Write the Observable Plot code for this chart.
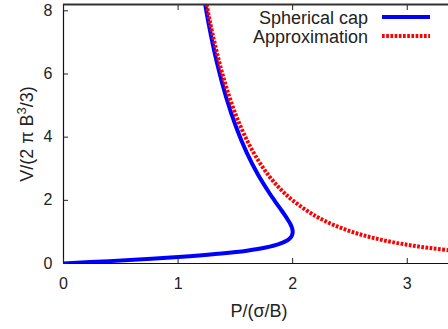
<!DOCTYPE html>
<html><head><meta charset="utf-8">
<script src="https://cdn.jsdelivr.net/npm/d3@7"></script>
<script src="https://cdn.jsdelivr.net/npm/@observablehq/plot@0.6"></script>
<style>
html,body{margin:0;padding:0;background:#fff;}
#chart{width:448px;height:329px;overflow:hidden;}
</style></head><body><div id="chart"></div>
<script>
const seriesNames = ["Spherical cap", "Approximation"];
const capP = [0, 0.396, 0.769, 1.101, 1.379, 1.6, 1.765, 1.879, 1.951, 1.974, 1.989, 1.997, 2.0, 1.998, 1.991, 1.981, 1.967, 1.933, 1.892, 1.846, 1.798, 1.698, 1.6, 1.507, 1.42, 1.34, 1.267, 1.2];
const capV = [0, 0.075, 0.152, 0.232, 0.316, 0.406, 0.504, 0.611, 0.728, 0.791, 0.857, 0.927, 1.0, 1.077, 1.158, 1.243, 1.332, 1.524, 1.736, 1.969, 2.224, 2.808, 3.5, 4.312, 5.256, 6.344, 7.588, 9.0];
const approxP = [1.2, 1.25, 1.3, 1.4, 1.5, 1.6, 1.7, 1.8, 1.9, 2.0, 2.2, 2.4, 2.6, 2.8, 3.0, 3.2, 3.4, 3.5];
const approxV = [9.26, 8.19, 7.28, 5.83, 4.74, 3.91, 3.26, 2.74, 2.33, 2.0, 1.503, 1.157, 0.91, 0.729, 0.593, 0.488, 0.407, 0.373];
const xTicks = [0, 1, 2, 3];
const yTicks = [0, 2, 4, 6, 8];
const xDomain = [0, 3.36];
const yDomain = [0, 8.2];
const xTitle = "P/(σ/B)";

const cap = capP.map((p, i) => ({p, v: capV[i]}));
const approx = approxP.map((p, i) => ({p, v: approxV[i]}));
const font = "'Liberation Sans', Arial, Helvetica, sans-serif";

const chart = Plot.plot({
  width: 448, height: 329,
  marginLeft: 63, marginRight: 0, marginTop: 4, marginBottom: 66,
  style: {fontFamily: font, fontSize: "16px", color: "#222", background: "#fff"},
  x: {domain: xDomain},
  y: {domain: yDomain},
  marks: [
    Plot.line(cap, {x: "p", y: "v", stroke: "#0000ff", strokeWidth: 4, curve: "catmull-rom", clip: true}),
    Plot.line(approx, {x: "p", y: "v", stroke: "#ff0000", strokeWidth: 4, strokeDasharray: "2.7,1.5", strokeLinecap: "butt", curve: "catmull-rom", clip: true}),
    Plot.ruleX([xDomain[0]], {stroke: "#111", strokeWidth: 1.2}),
    Plot.ruleY([yDomain[0]], {stroke: "#111", strokeWidth: 1.2}),
    Plot.ruleY([yDomain[1]], {stroke: "#333", strokeWidth: 2}),
    Plot.axisX({ticks: xTicks, tickSize: -5, tickPadding: 19, tickFormat: d => String(d), label: null, fontSize: 16}),
    Plot.axisX({anchor: "top", ticks: xTicks, tickSize: -5, tickFormat: () => "", label: null}),
    Plot.axisY({ticks: yTicks, tickSize: -5, tickPadding: 16, tickFormat: d => String(d), label: null, fontSize: 16})
  ]
});
document.getElementById("chart").appendChild(chart);

const svg = d3.select(chart);
svg.append("text").attr("x", 259).attr("y", 316.5).attr("text-anchor", "middle")
  .attr("font-size", 18).attr("fill", "#222").attr("font-family", font).text(xTitle);

const yt = svg.append("text").attr("transform", "translate(33,134) rotate(-90)")
  .attr("text-anchor", "middle").attr("font-size", 18).attr("fill", "#222").attr("font-family", font);
yt.append("tspan").text("V/(2 π B");
yt.append("tspan").attr("dy", -7).attr("font-size", 13).text("3");
yt.append("tspan").attr("dy", 7).text("/3)");

const legendColors = ["#0000ff", "#ff0000"];
const legendDash = [null, "2.7,1.5"];
seriesNames.forEach((name, i) => {
  const y = 24 + i * 19;
  svg.append("text").attr("x", 368).attr("y", y).attr("text-anchor", "end")
    .attr("font-size", 18).attr("fill", "#222").attr("font-family", font).text(name);
  svg.append("line").attr("x1", 382).attr("x2", 430).attr("y1", y - 7).attr("y2", y - 7)
    .attr("stroke", legendColors[i]).attr("stroke-width", 4)
    .attr("stroke-dasharray", legendDash[i]);
});
</script></body></html>
